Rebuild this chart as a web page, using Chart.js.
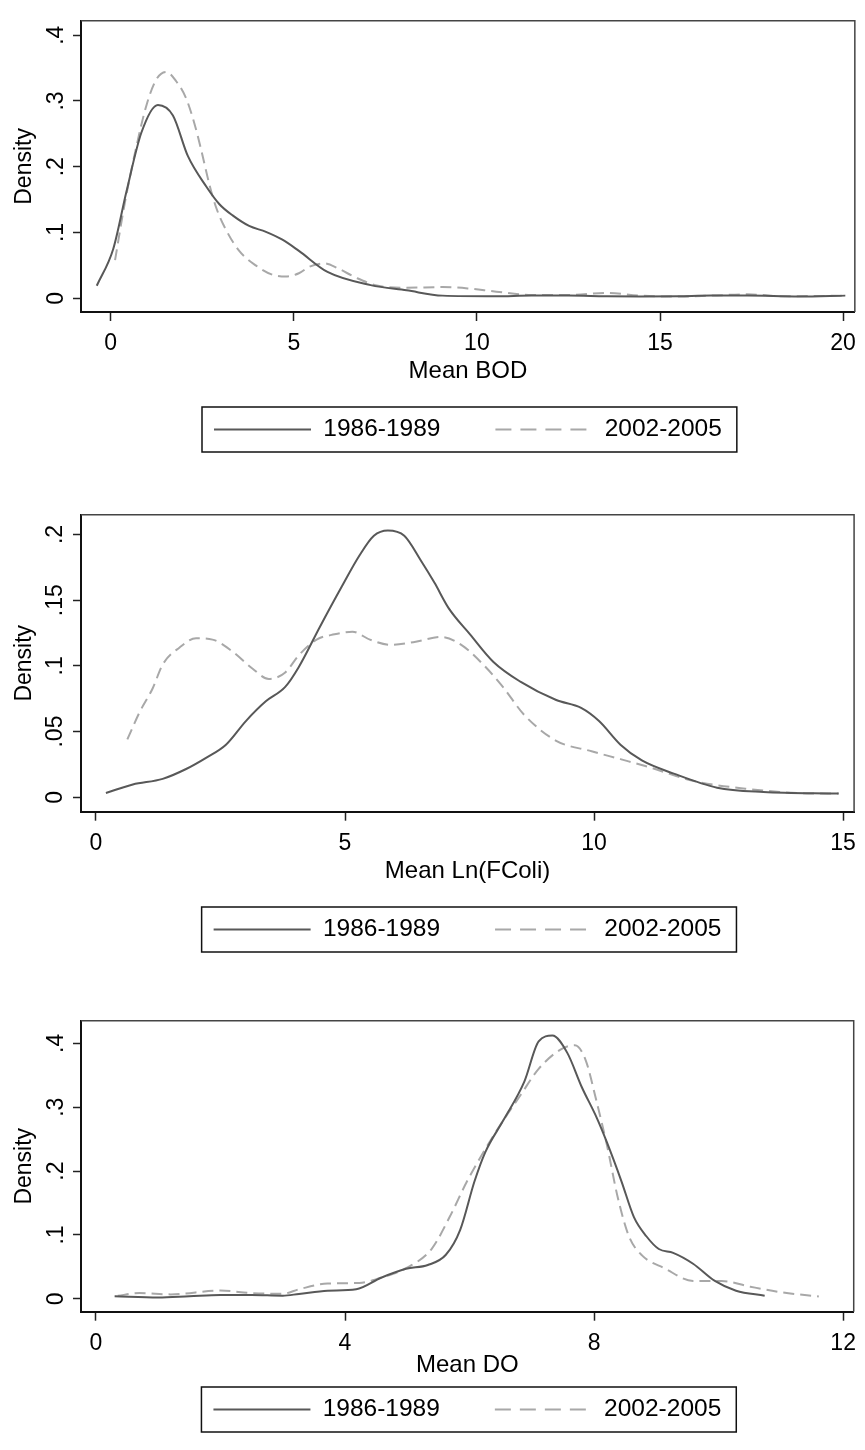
<!DOCTYPE html>
<html>
<head>
<meta charset="utf-8">
<script src="https://cdn.jsdelivr.net/npm/chart.js@4.4.0/dist/chart.umd.min.js"></script>
<style>
  html, body { margin: 0; padding: 0; background: #fff; overflow: hidden; }
  body { width: 865px; height: 1450px; position: relative; }
  .panel { position: absolute; left: 0; width: 865px; height: 500px; }
</style>
</head>
<body>
<div class="panel" style="top:0"><canvas id="bodChart" width="865" height="500"></canvas></div>
<div class="panel" style="top:500px"><canvas id="fcoliChart" width="865" height="500"></canvas></div>
<div class="panel" style="top:1000px"><canvas id="doChart" width="865" height="500"></canvas></div>
<script>
const seriesLabels = ['1986-1989', '2002-2005'];

// Mean BOD
const bodX1 = [-0.38, 0.07, 0.43, 0.84, 1.29, 1.70, 2.11, 2.61, 2.97, 3.33, 3.78, 4.24, 4.69, 5.14, 5.92, 7.10, 8.08, 9.06, 10.5, 11.5, 12.5, 13.5, 14.45, 15.5, 16.4, 17.39, 18.8, 20.06];
const bodY1 = [0.019, 0.075, 0.162, 0.252, 0.294, 0.278, 0.216, 0.170, 0.143, 0.126, 0.110, 0.101, 0.089, 0.072, 0.040, 0.020, 0.012, 0.004, 0.003, 0.004, 0.004, 0.003, 0.0025, 0.003, 0.004, 0.004, 0.0025, 0.004];
const bodX2 = [0.12, 0.38, 0.70, 0.98, 1.25, 1.52, 1.79, 2.06, 2.29, 2.47, 2.70, 2.88, 3.15, 3.51, 3.96, 4.41, 4.78, 5.14, 5.43, 5.83, 6.22, 6.71, 7.30, 8.08, 9.06, 9.75, 10.53, 11.51, 12.49, 13.57, 14.45, 15.43, 16.41, 17.39, 18.37, 20.04];
const bodY2 = [0.058, 0.143, 0.230, 0.294, 0.333, 0.344, 0.330, 0.304, 0.265, 0.226, 0.172, 0.138, 0.104, 0.072, 0.050, 0.036, 0.033, 0.038, 0.048, 0.053, 0.045, 0.031, 0.019, 0.016, 0.017, 0.015, 0.010, 0.005, 0.005, 0.008, 0.004, 0.0025, 0.004, 0.006, 0.003, 0.004];
const bodTicksX = [0, 5, 10, 15, 20];
const bodTicksY = [0, 0.1, 0.2, 0.3, 0.4];

// Mean Ln(FColi)
const fcoliX1 = [0.20, 0.74, 1.34, 1.81, 2.21, 2.61, 3.01, 3.41, 3.80, 4.07, 4.50, 4.93, 5.29, 5.58, 5.86, 6.19, 6.51, 6.80, 7.08, 7.51, 7.98, 8.52, 9.24, 9.74, 10.10, 10.53, 10.96, 11.60, 12.47, 13.40, 14.91];
const fcoliY1 = [0.0032, 0.0097, 0.014, 0.0215, 0.030, 0.040, 0.058, 0.073, 0.084, 0.099, 0.130, 0.160, 0.184, 0.199, 0.203, 0.199, 0.181, 0.163, 0.144, 0.124, 0.103, 0.088, 0.074, 0.068, 0.058, 0.040, 0.028, 0.018, 0.0073, 0.0040, 0.0028];
const fcoliX2 = [0.63, 0.88, 1.14, 1.34, 1.68, 2.01, 2.34, 2.74, 3.14, 3.47, 3.80, 4.07, 4.43, 4.79, 5.15, 5.50, 5.93, 6.37, 6.94, 7.37, 7.80, 8.19, 8.59, 9.24, 9.95, 10.53, 11.10, 11.96, 13.04, 14.12, 14.91];
const fcoliY2 = [0.044, 0.065, 0.083, 0.101, 0.114, 0.121, 0.120, 0.111, 0.098, 0.090, 0.095, 0.108, 0.120, 0.124, 0.126, 0.120, 0.116, 0.118, 0.122, 0.115, 0.100, 0.083, 0.063, 0.043, 0.035, 0.029, 0.023, 0.0127, 0.0065, 0.0032, 0.0028];
const fcoliTicksX = [0, 5, 10, 15];
const fcoliTicksY = [0, 0.05, 0.1, 0.15, 0.2];

// Mean DO
const doX1 = [0.30, 1.0, 1.5, 2.0, 2.5, 3.0, 3.26, 3.72, 4.18, 4.58, 4.98, 5.33, 5.62, 5.85, 6.08, 6.25, 6.54, 6.88, 7.11, 7.33, 7.57, 7.80, 8.04, 8.21, 8.44, 8.64, 8.84, 9.04, 9.27, 9.59, 9.94, 10.28, 10.74];
const doY1 = [0.004, 0.002, 0.004, 0.006, 0.006, 0.005, 0.0077, 0.0127, 0.015, 0.033, 0.047, 0.053, 0.069, 0.108, 0.184, 0.229, 0.279, 0.340, 0.403, 0.412, 0.385, 0.332, 0.284, 0.244, 0.184, 0.128, 0.098, 0.078, 0.072, 0.055, 0.028, 0.0127, 0.005];
const doX2 = [0.35, 0.7, 1.2, 2.0, 2.5, 3.0, 3.26, 3.72, 4.23, 4.64, 4.98, 5.39, 5.68, 5.96, 6.25, 6.54, 6.82, 7.11, 7.46, 7.69, 7.86, 8.04, 8.21, 8.38, 8.56, 8.77, 9.13, 9.59, 10.05, 10.51, 11.03, 11.61];
const doY2 = [0.005, 0.009, 0.007, 0.013, 0.009, 0.008, 0.015, 0.024, 0.025, 0.035, 0.048, 0.078, 0.128, 0.184, 0.234, 0.279, 0.319, 0.360, 0.390, 0.397, 0.375, 0.309, 0.239, 0.159, 0.098, 0.068, 0.048, 0.028, 0.028, 0.019, 0.010, 0.0036];
const doTicksX = [0, 4, 8, 12];
const doTicksY = [0, 0.1, 0.2, 0.3, 0.4];

const FONT = "'Liberation Sans', Arial, sans-serif";
Chart.defaults.font.family = FONT;
Chart.defaults.color = '#000';

const solidColor = 'rgb(88, 88, 88)';
const dashColor = 'rgb(168, 168, 168)';

const legendFont = 24.5;
const legendPad = 55;

const toPoints = (xs, ys) => xs.map((x, i) => ({ x: x, y: ys[i] }));
const fmtY = (v) => (v === 0 ? '0' : String(+v.toFixed(3)).replace(/^0\./, '.'));

// outline of the plot region and box round the legend
const framePlugin = {
  id: 'stataFrame',
  afterLayout(chart, args, opts) {
    // the last panel has its legend a little closer to the axis
    const shift = opts.legendShift || 0;
    if (shift) {
      chart.legend.top += shift;
      chart.legend.bottom += shift;
    }
  },
  afterDraw(chart) {
    const ctx = chart.ctx;
    const a = chart.chartArea;
    ctx.save();
    ctx.strokeStyle = '#444';
    ctx.lineWidth = 1.5;
    ctx.beginPath();
    ctx.moveTo(a.left, a.top);
    ctx.lineTo(a.right, a.top);
    ctx.lineTo(a.right, a.bottom);
    ctx.stroke();

    const boxes = chart.legend.legendHitBoxes;
    if (boxes && boxes.length) {
      const left = Math.min(...boxes.map(b => b.left)) - 12;
      const right = Math.max(...boxes.map(b => b.left + b.width)) + 15;
      const mid = boxes[0].top + boxes[0].height / 2;
      ctx.strokeStyle = '#111';
      ctx.lineWidth = 1.5;
      ctx.strokeRect(left, mid - 22.5, right - left, 45);
    }
    ctx.restore();
  }
};

function makeChart(id, cfg) {
  const canvas = document.getElementById(id);
  const legendMid = 429.5;
  const legendBottom = legendMid + 10 + legendFont / 2;
  const legendTop = legendBottom - (legendFont + legendPad + 10);
  const xAxisH = legendTop - cfg.axisBottom;
  const titlePad = legendTop - 14.4 - cfg.titleMid;

  return new Chart(canvas, {
    type: 'line',
    data: {
      datasets: [
        {
          label: seriesLabels[0],
          data: toPoints(cfg.x1, cfg.y1),
          borderColor: solidColor,
          borderWidth: 2,
          pointRadius: 0,
          cubicInterpolationMode: 'monotone',
          fill: false
        },
        {
          label: seriesLabels[1],
          data: toPoints(cfg.x2, cfg.y2),
          borderColor: dashColor,
          borderWidth: 2,
          borderDash: [11, 6],
          pointRadius: 0,
          cubicInterpolationMode: 'monotone',
          fill: false
        }
      ]
    },
    options: {
      responsive: false,
      animation: false,
      layout: { padding: { top: cfg.top, right: 6, left: 0, bottom: 500 - legendBottom } },
      scales: {
        x: {
          type: 'linear',
          min: cfg.xMin,
          max: cfg.xMax,
          afterBuildTicks: (s) => { s.ticks = cfg.ticksX.map(v => ({ value: v })); },
          afterFit: (s) => { s.height = xAxisH; },
          ticks: { font: { size: 23 }, color: '#000', padding: 9, maxRotation: 0 },
          grid: { drawOnChartArea: false, drawTicks: true, tickLength: 9, tickWidth: 1.5, tickColor: '#222' },
          border: { display: true, color: '#111', width: 2 },
          title: {
            display: true,
            text: cfg.xTitle,
            font: { size: 24 },
            color: '#000',
            padding: { top: 0, bottom: titlePad }
          }
        },
        y: {
          type: 'linear',
          min: cfg.yMin,
          max: cfg.yMax,
          afterBuildTicks: (s) => { s.ticks = cfg.ticksY.map(v => ({ value: v })); },
          afterFit: (s) => { s.width = 81; },
          ticks: {
            font: { size: 23 },
            color: '#000',
            minRotation: 90,
            maxRotation: 90,
            crossAlign: 'center',
            padding: cfg.yPad,
            callback: (v) => fmtY(v)
          },
          grid: { drawOnChartArea: false, drawTicks: true, tickLength: 8, tickWidth: 1.5, tickColor: '#222' },
          border: { display: true, color: '#111', width: 2 },
          title: {
            display: true,
            text: 'Density',
            font: { size: 23 },
            color: '#000',
            padding: { top: 11, bottom: 0 }
          }
        }
      },
      plugins: {
        tooltip: { enabled: false },
        stataFrame: { legendShift: cfg.legendShift || 0 },
        legend: {
          position: 'bottom',
          fullSize: false,
          labels: {
            font: { size: legendFont },
            color: '#000',
            usePointStyle: true,
            pointStyle: 'line',
            pointStyleWidth: 97,
            padding: legendPad,
            generateLabels: (chart) => {
              const items = Chart.defaults.plugins.legend.labels.generateLabels(chart);
              items.forEach((item, i) => {
                item.pointStyle = 'line';
                item.lineWidth = 2;
                item.lineDash = i === 1 ? [16, 9] : [];
              });
              return items;
            }
          }
        }
      }
    },
    plugins: [framePlugin]
  });
}

makeChart('bodChart', {
  x1: bodX1, y1: bodY1, x2: bodX2, y2: bodY2,
  ticksX: bodTicksX, ticksY: bodTicksY,
  xMin: -0.81, xMax: 20.32, yMin: -0.0209, yMax: 0.4219,
  xTitle: 'Mean BOD', top: 9, yPad: 7, axisBottom: 312, titleMid: 371
});

makeChart('fcoliChart', {
  x1: fcoliX1, y1: fcoliY1, x2: fcoliX2, y2: fcoliY2,
  ticksX: fcoliTicksX, ticksY: fcoliTicksY,
  xMin: -0.3, xMax: 15.22, yMin: -0.011, yMax: 0.215,
  xTitle: 'Mean Ln(FColi)', top: 10, yPad: 1, axisBottom: 311.7, titleMid: 371
});

makeChart('doChart', {
  x1: doX1, y1: doY1, x2: doX2, y2: doY2,
  ticksX: doTicksX, ticksY: doTicksY,
  xMin: -0.24, xMax: 12.17, yMin: -0.0201, yMax: 0.4352,
  xTitle: 'Mean DO', top: 10, yPad: 7, axisBottom: 311.7, titleMid: 365, legendShift: -20
});
</script>
</body>
</html>
